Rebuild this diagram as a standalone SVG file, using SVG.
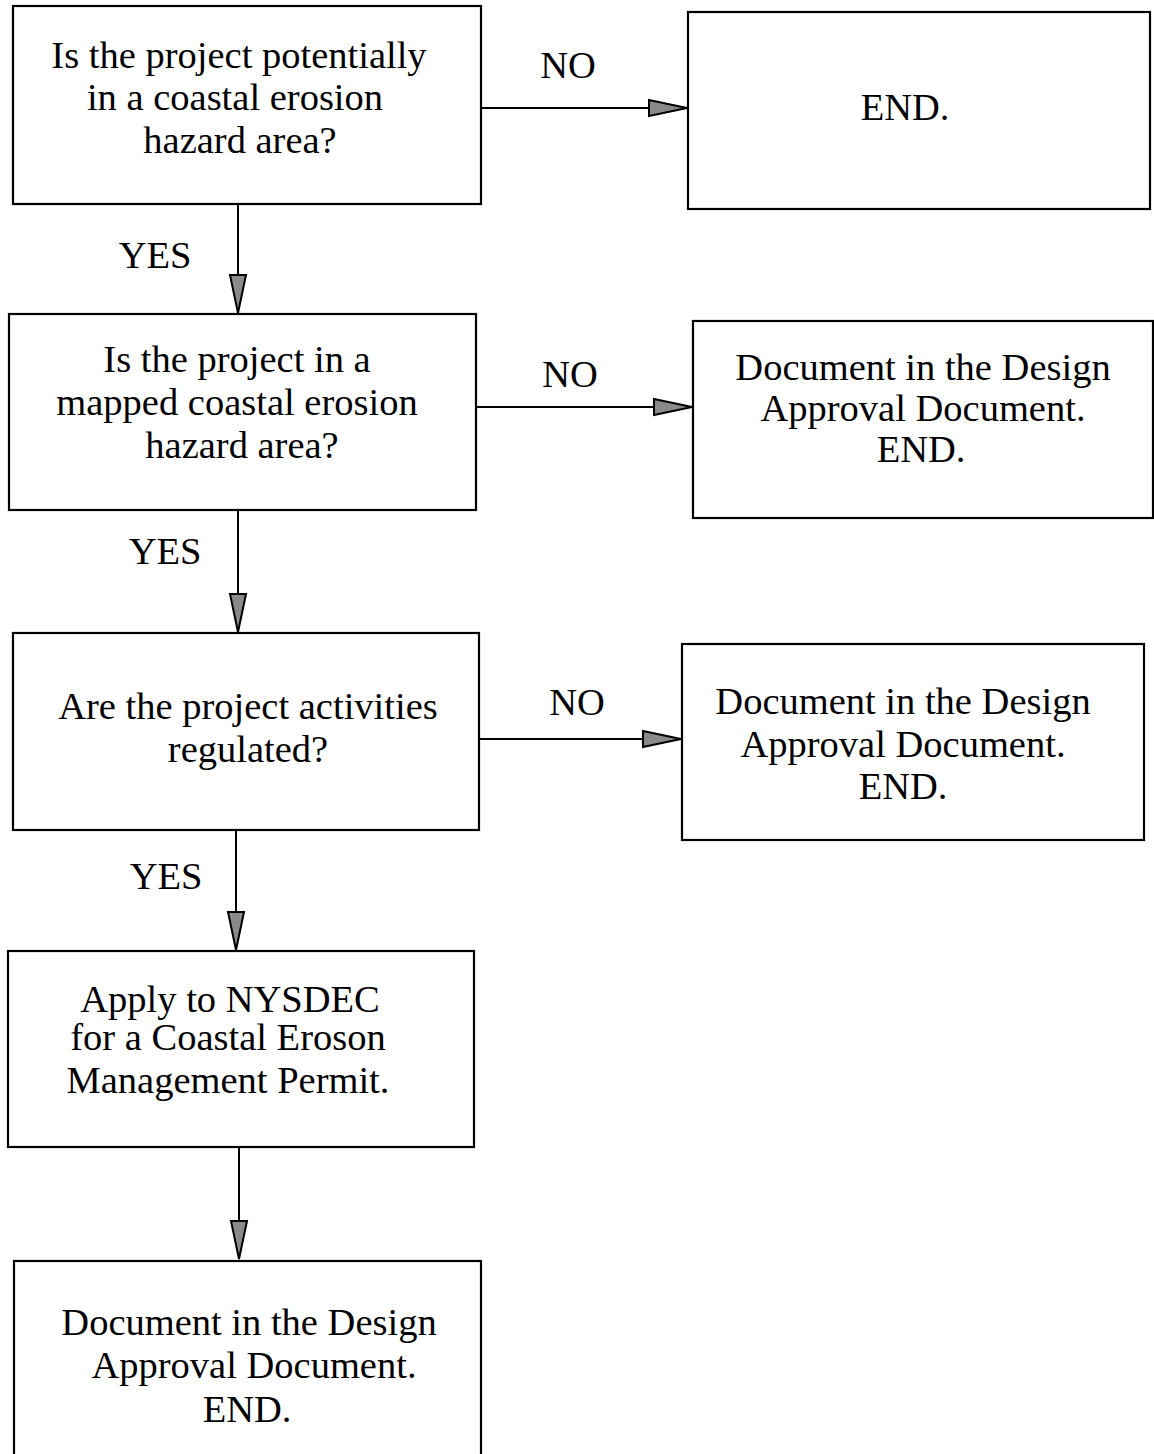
<svg xmlns="http://www.w3.org/2000/svg" width="1154" height="1454" viewBox="0 0 1154 1454">
<style>
.box{fill:#fff;stroke:#000;stroke-width:2.2}
.t{font-family:"Liberation Serif","Times New Roman",serif;font-size:38.5px;fill:#000;text-anchor:middle}
.c{stroke:#000;stroke-width:2;fill:none;marker-end:url(#ah)}
</style>
<defs>
<marker id="ah" markerUnits="userSpaceOnUse" markerWidth="44" markerHeight="22" viewBox="-2 -11 44 22" refX="38" refY="0" orient="auto">
<path d="M0,-8 L38,0 L0,8 z" fill="#8a8a8a" stroke="#000" stroke-width="2" stroke-linejoin="miter"/>
</marker>
</defs>
<rect width="1154" height="1454" fill="#fff"/>
<g id="connectors">
<line class="c" x1="481" y1="108" x2="687" y2="108"/>
<line class="c" x1="238" y1="204" x2="238" y2="313"/>
<line class="c" x1="476" y1="407" x2="692" y2="407"/>
<line class="c" x1="238" y1="510" x2="238" y2="632"/>
<line class="c" x1="479" y1="739" x2="681" y2="739"/>
<line class="c" x1="236" y1="830" x2="236" y2="950"/>
<line class="c" x1="239" y1="1147" x2="239" y2="1259"/>
<text class="t" x="568" y="78">NO</text>
<text class="t" x="155" y="268">YES</text>
<text class="t" x="570" y="387">NO</text>
<text class="t" x="165" y="564">YES</text>
<text class="t" x="577" y="715">NO</text>
<text class="t" x="166" y="889">YES</text>
</g>
<g id="q1">
<rect class="box" x="13" y="6" width="468" height="198"/>
<text class="t" x="239" y="68">Is the project potentially</text>
<text class="t" x="235" y="110">in a coastal erosion</text>
<text class="t" x="240" y="153">hazard area?</text>
</g>
<g id="end1">
<rect class="box" x="688" y="12" width="462" height="197"/>
<text class="t" x="905" y="120">END.</text>
</g>
<g id="q2">
<rect class="box" x="9" y="314" width="467" height="196"/>
<text class="t" x="237" y="372">Is the project in a</text>
<text class="t" x="237" y="415">mapped coastal erosion</text>
<text class="t" x="242" y="458">hazard area?</text>
</g>
<g id="doc2">
<rect class="box" x="693" y="321" width="460" height="197"/>
<text class="t" x="923" y="380">Document in the Design</text>
<text class="t" x="923" y="421">Approval Document.</text>
<text class="t" x="921" y="462">END.</text>
</g>
<g id="q3">
<rect class="box" x="13" y="633" width="466" height="197"/>
<text class="t" x="248" y="719">Are the project activities</text>
<text class="t" x="248" y="762">regulated?</text>
</g>
<g id="doc3">
<rect class="box" x="682" y="644" width="462" height="196"/>
<text class="t" x="903" y="714">Document in the Design</text>
<text class="t" x="903" y="757">Approval Document.</text>
<text class="t" x="903" y="799">END.</text>
</g>
<g id="apply">
<rect class="box" x="8" y="951" width="466" height="196"/>
<text class="t" x="230" y="1012">Apply to NYSDEC</text>
<text class="t" x="228" y="1050">for a Coastal Eroson</text>
<text class="t" x="228" y="1093">Management Permit.</text>
</g>
<g id="doc5">
<rect class="box" x="14" y="1261" width="467" height="200"/>
<text class="t" x="249" y="1335">Document in the Design</text>
<text class="t" x="254" y="1378">Approval Document.</text>
<text class="t" x="247" y="1422">END.</text>
</g>
</svg>
